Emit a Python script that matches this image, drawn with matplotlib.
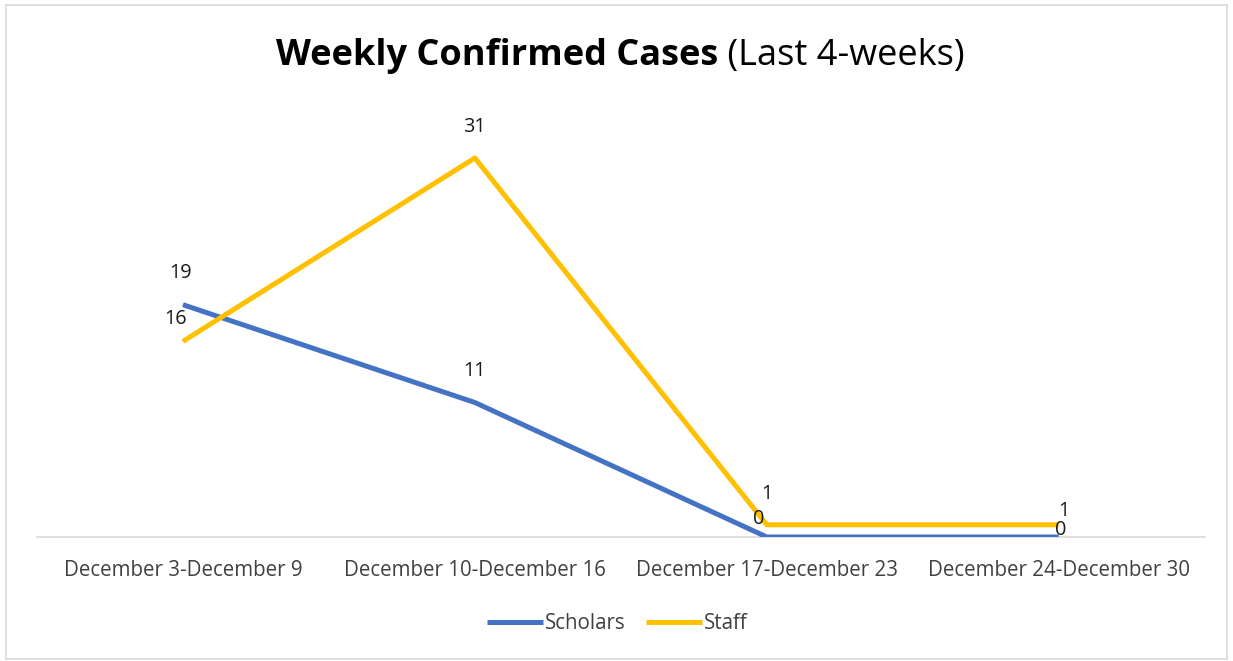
"""Weekly confirmed cases line chart, Excel-style."""

import matplotlib

matplotlib.use("Agg")
import matplotlib.pyplot as plt
from matplotlib.patches import Rectangle

weeks = [
    "December 3-December 9",
    "December 10-December 16",
    "December 17-December 23",
    "December 24-December 30",
]
scholars = [19, 11, 0, 0]
staff = [16, 31, 1, 1]

BLUE = "#4472C4"
GOLD = "#FFC000"
TEXT = "#404040"
FS = 14.8

plt.rcParams["font.family"] = ["Open Sans", "DejaVu Sans"]

fig = plt.figure(figsize=(12.33, 6.61), dpi=100)
fig.patches.append(
    Rectangle((0.005, 0.003), 0.99, 0.99, transform=fig.transFigure,
              fill=False, edgecolor="#d9d9d9", linewidth=1.2)
)
ax = fig.add_axes([0.030, 0.1876, 0.947, 0.6474])

x = list(range(len(weeks)))
ax.plot(x, scholars, color=BLUE, linewidth=3.6, label="Scholars", solid_capstyle="butt")
ax.plot(x, staff, color=GOLD, linewidth=3.6, label="Staff", solid_capstyle="butt")

# label offsets in points (dx, dy) to the label centre, mimicking Excel's placement
sch_off = [(-1.5, 23), (-0.5, 23), (-6, 13), (1.5, 5)]
stf_off = [(-5, 16), (0, 22), (0, 22), (3.6, 10)]
for xi, v, off in zip(x, scholars, sch_off):
    ax.annotate(str(v), (xi, v), xytext=off, textcoords="offset points",
                ha="center", va="center", fontsize=14.3, color="#1a1a1a")
for xi, v, off in zip(x, staff, stf_off):
    ax.annotate(str(v), (xi, v), xytext=off, textcoords="offset points",
                ha="center", va="center", fontsize=14.3, color="#1a1a1a")

ax.set_xlim(-0.5, len(weeks) - 0.5)
ax.set_ylim(0, 35)
ax.set_xticks(x)
ax.set_xticklabels(weeks, fontsize=FS, color=TEXT)
ax.tick_params(axis="x", length=0, pad=16.5)
ax.set_yticks([])
for side in ("top", "right", "left"):
    ax.spines[side].set_visible(False)
ax.spines["bottom"].set_color("#d9d9d9")
ax.spines["bottom"].set_linewidth(1.2)
ax.spines["bottom"].set_zorder(0)

ax.legend(loc="center", bbox_to_anchor=(0.497, -0.203), ncol=2, frameon=False,
          fontsize=FS, handlelength=2.7, handletextpad=0.1, columnspacing=1.0,
          labelcolor=TEXT, borderpad=0)

# title: bold part + normal part, centred together
fig.canvas.draw()
renderer = fig.canvas.get_renderer()
t1 = fig.text(0, 0.915, "Weekly Confirmed Cases", fontsize=26, fontweight="bold",
              va="center", ha="left")
t2 = fig.text(0, 0.915, " (Last 4-weeks)", fontsize=26, va="center", ha="left")
w1 = t1.get_window_extent(renderer).width / fig.bbox.width
w2 = t2.get_window_extent(renderer).width / fig.bbox.width
start = 0.503 - (w1 + w2) / 2
t1.set_x(start)
t2.set_x(start + w1)

fig.savefig("out.png", dpi=100)
